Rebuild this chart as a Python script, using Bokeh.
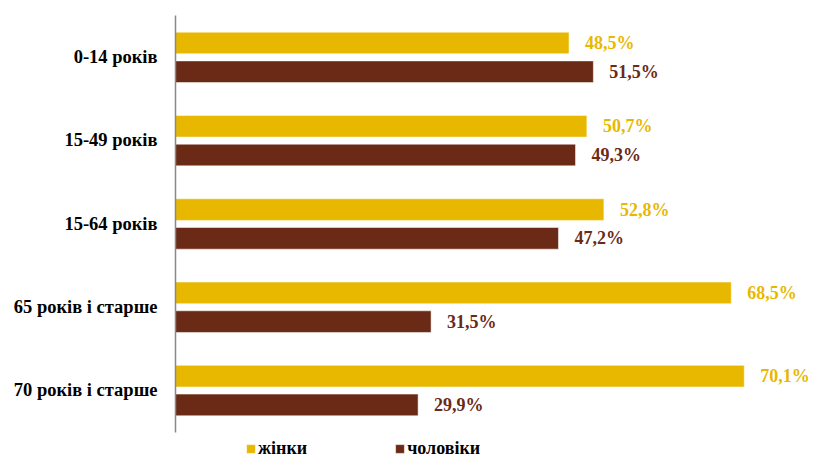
from bokeh.plotting import figure
from bokeh.models import ColumnDataSource, Range1d, Legend, LegendItem, FixedTicker
from bokeh.transform import dodge
from bokeh.core.properties import value
from bokeh.embed import file_html
from bokeh.resources import INLINE

categories = ["0-14 років", "15-49 років", "15-64 років", "65 років і старше", "70 років і старше"]
women = [48.5, 50.7, 52.8, 68.5, 70.1]
men = [51.5, 49.3, 47.2, 31.5, 29.9]
series_names = ["жінки", "чоловіки"]

GOLD = "#E8B800"
BROWN = "#6B2A16"
FONT = "Liberation Serif"

def fmt(v):
    return f"{v:.1f}".replace(".", ",") + "%"

n = len(categories)
ypos = [n - 1 - i for i in range(n)]  # first category at top

src = ColumnDataSource(dict(
    y=ypos,
    women=women,
    men=men,
    wl=[fmt(v) for v in women],
    ml=[fmt(v) for v in men],
))

p = figure(
    width=824, height=459,
    y_range=Range1d(-0.83, n - 0.5),
    x_range=Range1d(0, 79),
    output_backend="svg", toolbar_location=None,
    min_border_left=175, min_border_right=8, min_border_top=15, min_border_bottom=0,
)
p.outline_line_color = None
p.xgrid.visible = False
p.ygrid.visible = False
p.xaxis.visible = False

rw = p.hbar(y=dodge("y", 0.17), right="women", left=0, height=0.26,
            source=src, fill_color=GOLD, line_color="white", line_width=0.5)
rm = p.hbar(y=dodge("y", -0.175), right="men", left=0, height=0.26,
            source=src, fill_color=BROWN, line_color="white", line_width=0.5)

p.text(x="women", y=dodge("y", 0.17), text="wl", source=src,
       x_offset=16, text_baseline="middle", text_align="left",
       text_font=value(FONT), text_font_style="bold", text_font_size="18px", text_color=GOLD)
p.text(x="men", y=dodge("y", -0.175), text="ml", source=src,
       x_offset=16, text_baseline="middle", text_align="left",
       text_font=value(FONT), text_font_style="bold", text_font_size="18px", text_color=BROWN)

ya = p.yaxis[0]
ya.ticker = FixedTicker(ticks=ypos)
ya.major_label_overrides = {y: c for y, c in zip(ypos, categories)}
ya.bounds = (-0.5, n - 0.5)
ya.axis_line_color = "#888888"
ya.axis_line_width = 1.5
ya.major_tick_line_color = None
ya.minor_tick_line_color = None
ya.major_label_standoff = 12
ya.major_label_text_font = FONT
ya.major_label_text_font_style = "bold"
ya.major_label_text_font_size = "18.5px"
ya.major_label_text_color = "black"

legend = Legend(
    items=[LegendItem(label=series_names[0], renderers=[rw]),
           LegendItem(label=series_names[1], renderers=[rm])],
    orientation="horizontal",
    location=(70, 0),
    glyph_width=11, glyph_height=11,
    label_standoff=2, spacing=87,
    padding=0, margin=0,
    border_line_color=None, background_fill_alpha=0,
    label_text_font=FONT, label_text_font_style="bold", label_text_font_size="18px",
    label_text_color="black", label_height=16,
)
p.add_layout(legend, "center")

open("out.html", "w").write(file_html(p, INLINE))
